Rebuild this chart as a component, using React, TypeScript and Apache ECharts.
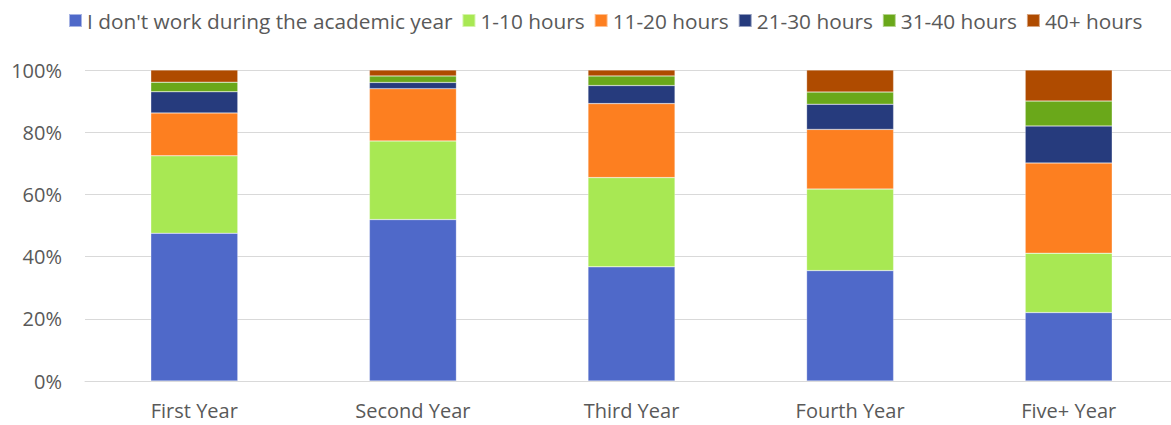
import React, { useEffect, useRef } from "react";
import * as echarts from "echarts";

const categories = ["First Year", "Second Year", "Third Year", "Fourth Year", "Five+ Year"];
const seriesNames = [
  "I don't work during the academic year",
  "1-10 hours",
  "11-20 hours",
  "21-30 hours",
  "31-40 hours",
  "40+ hours",
];
const noWork = [47.5, 51.9, 36.7, 35.5, 22.0];
const h1to10 = [24.9, 25.3, 28.7, 26.2, 19.1];
const h11to20 = [13.8, 16.8, 23.8, 19.2, 29.0];
const h21to30 = [6.8, 2.0, 5.8, 8.1, 11.9];
const h31to40 = [3.1, 2.1, 3.1, 3.9, 8.0];
const h40plus = [3.9, 1.9, 1.9, 7.1, 10.0];
const seriesValues = [noWork, h1to10, h11to20, h21to30, h31to40, h40plus];
const colors = ["#4F69C9", "#A8E853", "#FD7F20", "#263B7D", "#6AA81A", "#AF4B00"];

const FONT = "'Open Sans', sans-serif";
const TEXT = "#595959";

export default function App() {
  const ref = useRef<HTMLDivElement>(null);
  useEffect(() => {
    if (!ref.current) return;
    const chart = echarts.init(ref.current, null, { renderer: "svg" });
    chart.setOption({
      animation: false,
      backgroundColor: "#ffffff",
      legend: {
        left: 63,
        top: 5,
        icon: "rect",
        itemWidth: 13,
        itemHeight: 13,
        itemGap: 9,
        textStyle: { fontFamily: FONT, fontSize: 20.8, color: TEXT },
        data: seriesNames,
      },
      grid: { left: 85, top: 70, width: 1093, height: 311, containLabel: false },
      xAxis: {
        type: "category",
        data: categories,
        axisLine: { show: true, lineStyle: { color: "#D9D9D9", width: 1 } },
        axisTick: { show: false },
        axisLabel: { fontFamily: FONT, fontSize: 20, color: TEXT, margin: 19 },
      },
      yAxis: {
        type: "value",
        min: 0,
        max: 100,
        interval: 20,
        axisLine: { show: false },
        axisTick: { show: false },
        splitLine: { lineStyle: { color: "#D9D9D9", width: 1 } },
        axisLabel: {
          fontFamily: FONT,
          fontSize: 20,
          color: TEXT,
          margin: 23,
          formatter: "{value}%",
        },
      },
      series: seriesNames.map((name, i) => ({
        name,
        type: "bar",
        stack: "total",
        barWidth: 87,
        data: seriesValues[i],
        itemStyle: { color: colors[i], borderColor: "rgba(255,255,255,0.5)", borderWidth: 0.5 },
      })),
    });
    return () => chart.dispose();
  }, []);
  return (
    <div
      style={{
        position: "absolute",
        left: 0,
        top: 0,
        width: 1171,
        height: 425,
        overflow: "hidden",
        background: "#ffffff",
      }}
    >
      <div ref={ref} style={{ width: 1180, height: 425 }} />
    </div>
  );
}
